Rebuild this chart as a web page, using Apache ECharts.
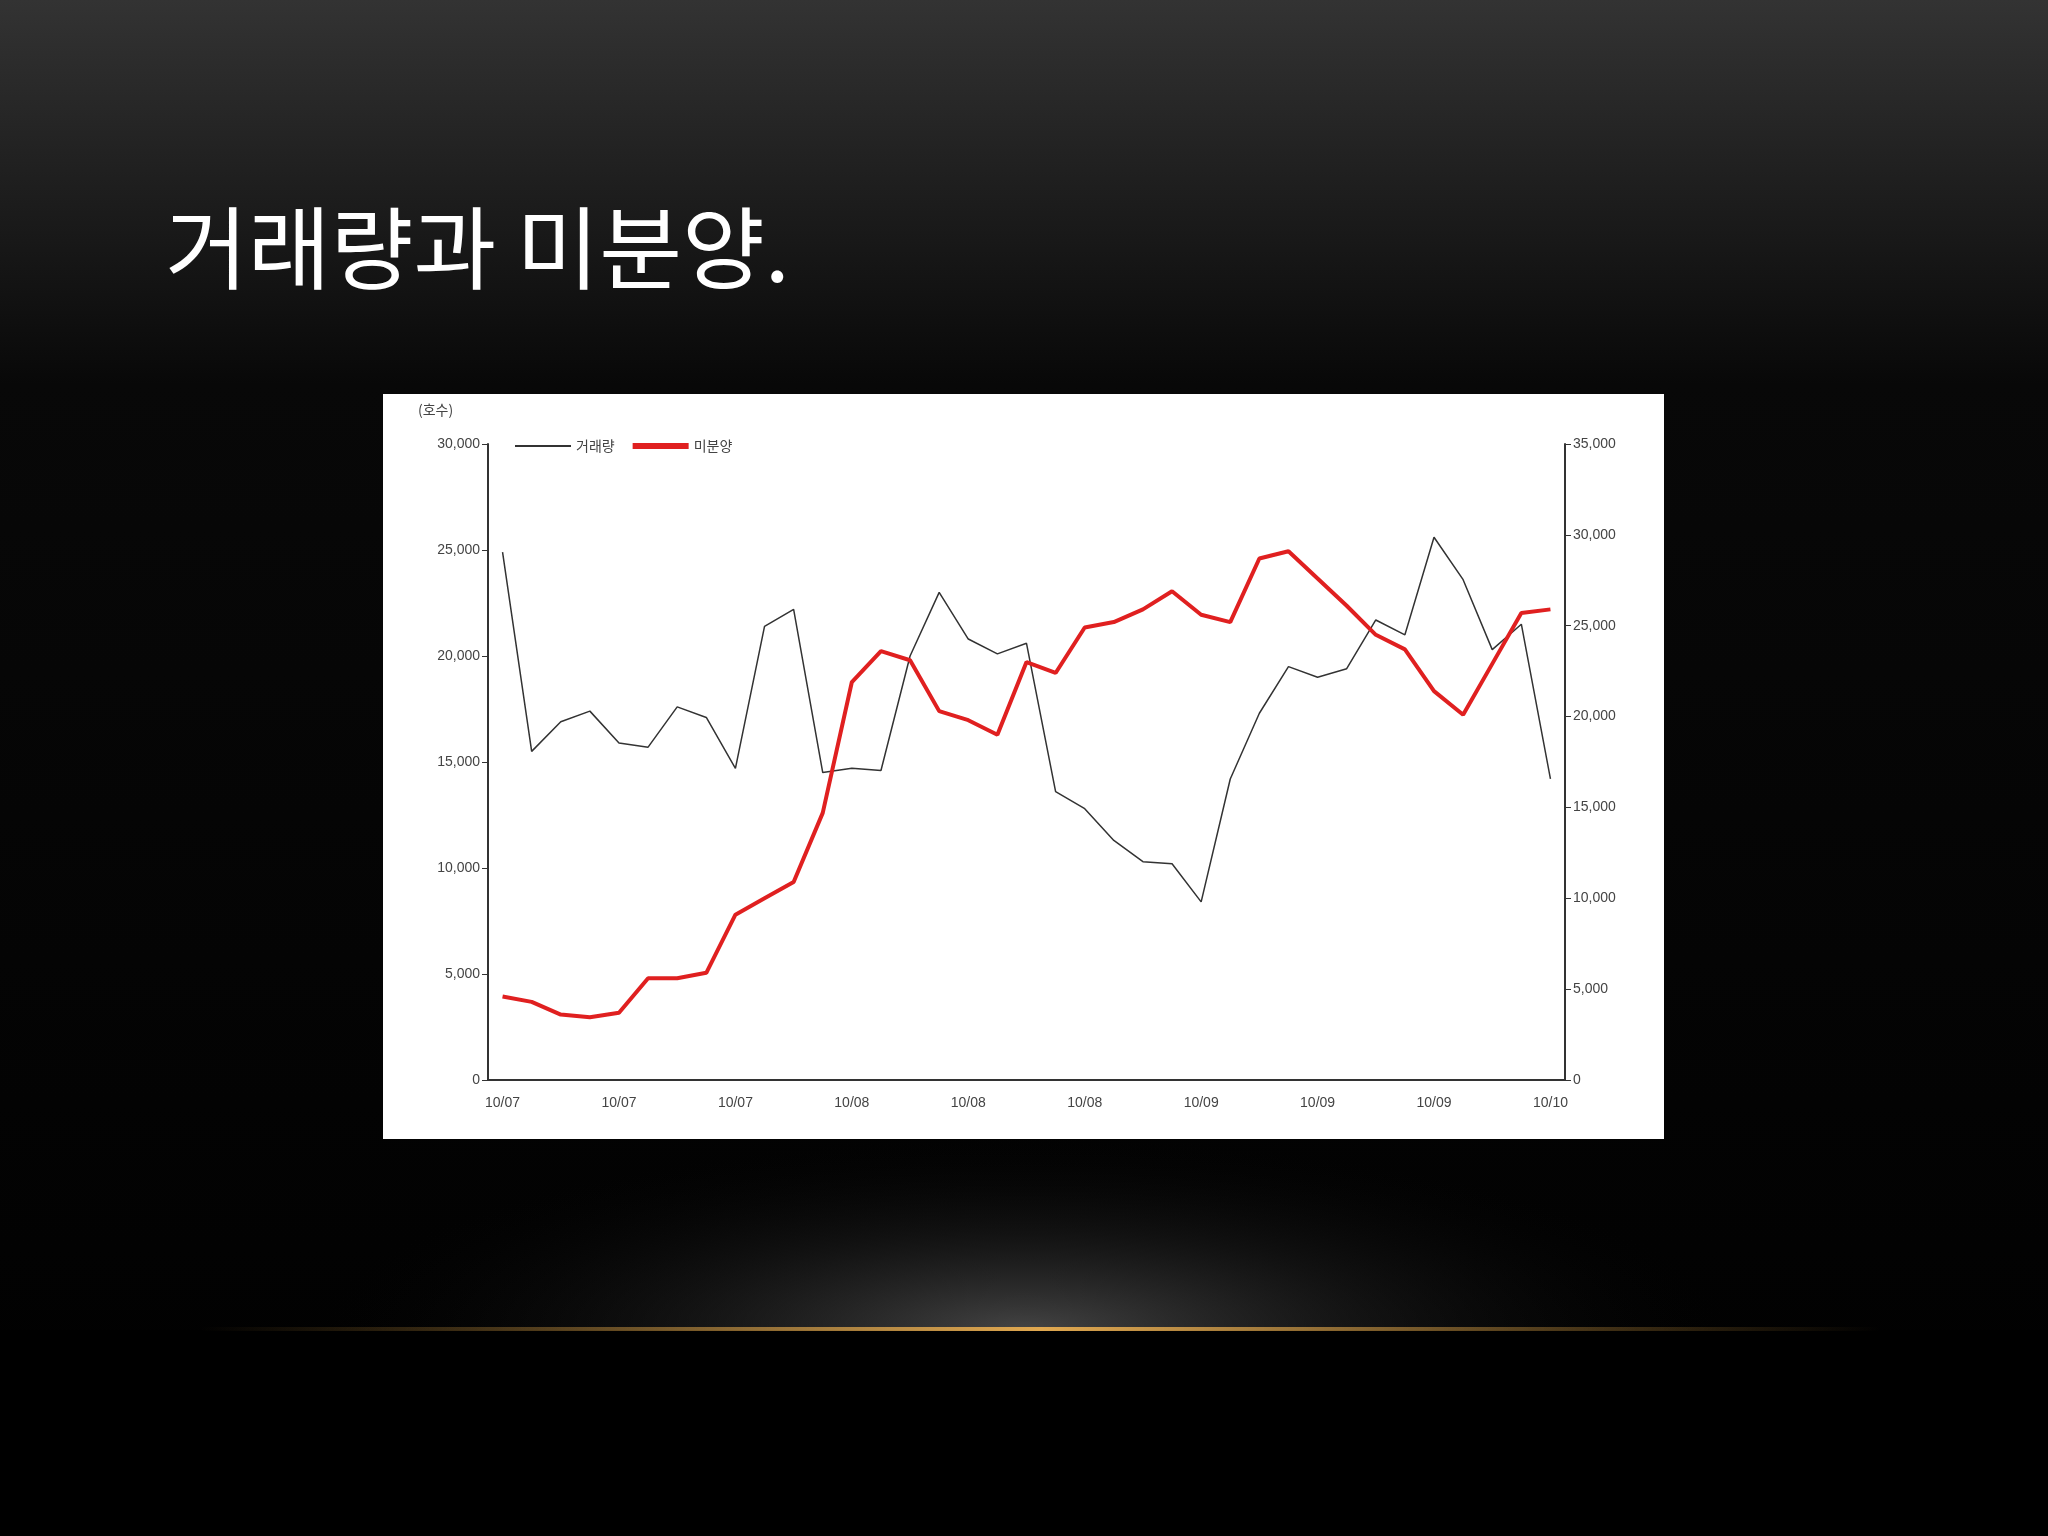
<!DOCTYPE html>
<html>
<head>
<meta charset="utf-8">
<script src="https://cdn.jsdelivr.net/npm/echarts@6/dist/echarts.min.js"></script>
<style>html,body{margin:0;padding:0;background:#000;}#main{width:2048px;height:1536px;}</style>
</head>
<body>
<div id="main"></div>
<script>
// 37 weekly points, labels every 4th
var tickLabels = ['10/07','10/07','10/07','10/08','10/08','10/08','10/09','10/09','10/09','10/10'];
var categories = [];
for (var i = 0; i < 37; i++) {
    categories.push(i % 4 === 0 ? tickLabels[i / 4] : '');
}
var volume = [24900,15500,16900,17400,15900,15700,17600,17100,14700,21400,22200,14500,14700,14600,
              20000,23000,20800,20100,20600,13600,12800,11300,10300,10200,8400,14200,17300,19500,
              19000,19400,21700,21000,25600,23600,20300,21500,14200];
var unsold = [4600,4300,3600,3450,3700,5600,5600,5900,9100,10000,10900,14700,21900,23600,23100,
              20300,19800,19000,23000,22400,24900,25200,25900,26900,25600,25200,28700,29100,27600,
              26100,24500,23700,21400,20100,22900,25700,25900];

var chart = echarts.init(document.getElementById('main'));
var axisText = {color: '#444', fontSize: 14, fontFamily: 'Liberation Sans'};
var option = {
    backgroundColor: {
        type: 'linear', x: 0, y: 0, x2: 0, y2: 1,
        colorStops: [{offset: 0, color: '#333'}, {offset: 0.25, color: '#080808'}, {offset: 1, color: '#000'}]
    },
    title: {
        text: '거래량과 미분양.',
        left: 160, top: 198,
        textStyle: {color: '#fff', fontSize: 90, fontWeight: 'normal', fontFamily: 'Noto Sans CJK KR'}
    },
    graphic: [
        // soft glow above the gold line
        {type: 'circle', shape: {cx: 0, cy: 0, r: 200}, x: 1024, y: 1330, scaleX: 3.6, scaleY: 1,
         z: -10, silent: true,
         style: {fill: {type: 'radial', x: 0.5, y: 0.5, r: 0.5,
                 colorStops: [{offset: 0, color: 'rgba(85,85,85,0.8)'}, {offset: 0.5, color: 'rgba(40,40,40,0.4)'}, {offset: 1, color: 'rgba(0,0,0,0)'}]}}},
        {type: 'rect', shape: {x: 0, y: 1330, width: 2048, height: 206}, z: -9, silent: true,
         style: {fill: '#000'}},
        {type: 'rect', shape: {x: 200, y: 1327, width: 1680, height: 4}, z: -8, silent: true,
         style: {fill: {type: 'linear', x: 0, y: 0, x2: 1, y2: 0,
                 colorStops: [{offset: 0, color: 'rgba(180,130,50,0)'}, {offset: 0.5, color: '#e0a850'}, {offset: 1, color: 'rgba(180,130,50,0)'}]}}},
        {type: 'rect', shape: {x: 383, y: 394, width: 1281, height: 745}, z: -5, silent: true,
         style: {fill: '#fff'}},
        {type: 'text', left: 418, top: 403, z: 5,
         style: {text: '(호수)', fill: '#444', fontSize: 14, fontFamily: 'Noto Sans CJK KR'}}
    ],
    legend: {
        orient: 'horizontal', left: 510, top: 434, itemGap: 18, itemWidth: 56, itemHeight: 6,
        textStyle: {color: '#444', fontSize: 14, fontFamily: 'Noto Sans CJK KR'},
        data: [
            {name: '거래량', icon: 'path://M0,9h60v2h-60z', itemStyle: {color: '#333'}},
            {name: '미분양', icon: 'rect', itemStyle: {color: '#e02020'}}
        ]
    },
    grid: {left: 488, right: 483, top: 444, bottom: 456},
    xAxis: {
        type: 'category', data: categories, boundaryGap: true,
        axisLine: {lineStyle: {color: '#333', width: 2}},
        axisTick: {interval: 3, length: 6, lineStyle: {color: '#333'}},
        axisLabel: {interval: 3, margin: 16, color: '#444', fontSize: 14, fontFamily: 'Liberation Sans'}
    },
    yAxis: [
        {type: 'value', min: 0, max: 30000, interval: 5000,
         axisLine: {show: true, lineStyle: {color: '#333', width: 2}},
         axisTick: {show: true, length: 6, lineStyle: {color: '#333'}},
         splitLine: {show: false},
         axisLabel: axisText},
        {type: 'value', min: 0, max: 35000, interval: 5000, position: 'right',
         axisLine: {show: true, lineStyle: {color: '#333', width: 2}},
         axisTick: {show: true, length: 6, lineStyle: {color: '#333'}},
         splitLine: {show: false},
         axisLabel: axisText}
    ],
    series: [
        {name: '거래량', type: 'line', yAxisIndex: 0, data: volume, symbol: 'none',
         lineStyle: {color: '#333', width: 1.5}, itemStyle: {color: '#333'}},
        {name: '미분양', type: 'line', yAxisIndex: 1, data: unsold, symbol: 'none',
         lineStyle: {color: '#e02020', width: 4}, itemStyle: {color: '#e02020'}}
    ]
};
chart.setOption(option);
</script>
</body>
</html>
